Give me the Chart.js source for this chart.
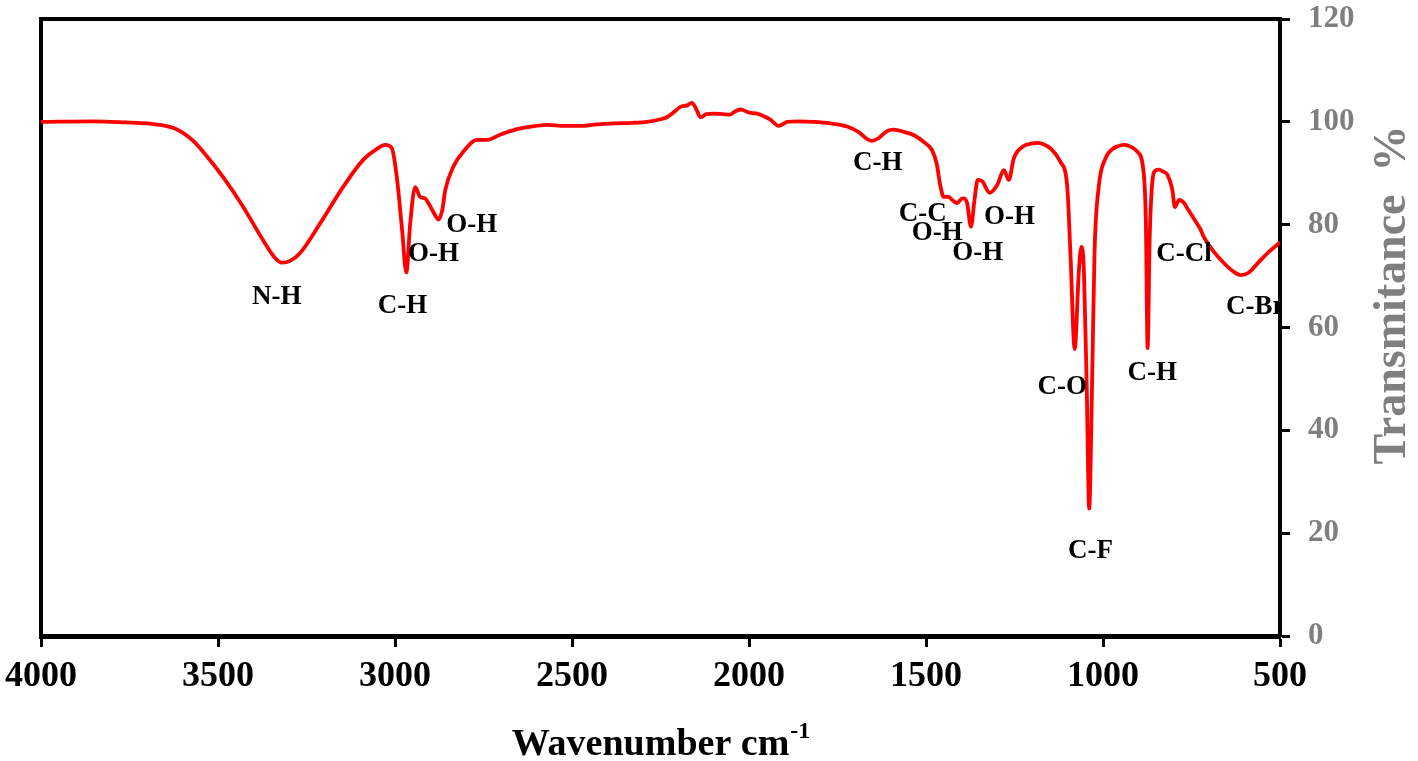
<!DOCTYPE html>
<html>
<head>
<meta charset="utf-8">
<title>FTIR spectrum</title>
<script src="https://cdn.jsdelivr.net/npm/chart.js@4.4.1/dist/chart.umd.min.js"></script>
<style>
  html, body { margin: 0; padding: 0; background: #fff; }
  #wrap { width: 1418px; height: 761px; }
</style>
</head>
<body>
<div id="wrap"><canvas id="ftir" width="1418" height="761"></canvas></div>
<script>
// spectrum, ordered from 4000 down to 500 cm-1
const wavenumbers = [
  4000, 3850, 3760, 3700, 3655, 3625, 3600, 3570, 3542, 3486, 3429, 3373, 3340, 3320, 3295, 3268, 3211, 3146,
  3090, 3050, 3028, 3009, 2995, 2980, 2968, 2957, 2943, 2929, 2915, 2905, 2888, 2877, 2866, 2858,
  2835, 2807, 2768, 2740, 2700, 2665, 2620, 2571, 2520, 2477, 2430, 2383, 2330, 2288, 2250, 2232,
  2210, 2194, 2175, 2161, 2150, 2137, 2120, 2100, 2075, 2053, 2040, 2024, 2000, 1977, 1955, 1939,
  1916, 1892, 1860, 1817, 1770, 1723, 1690, 1665, 1652, 1635, 1610, 1591, 1560, 1534, 1501, 1483,
  1470, 1459, 1450, 1436, 1426, 1412, 1400, 1393, 1384, 1373, 1363, 1354, 1341, 1320, 1299, 1280,
  1266, 1252, 1224, 1200, 1186, 1170, 1148, 1120, 1101, 1092, 1080, 1068, 1061, 1054, 1046, 1039,
  1031, 1024, 1012, 993, 975, 960, 940, 927, 903, 886, 879, 874, 868, 861, 852, 842,
  830, 818, 804, 797, 785, 771, 762, 740, 724, 716, 690, 658, 630, 611, 590, 555,
  530, 503, 500
];
const transmittance = [
  100.0, 100.1, 99.9, 99.7, 99.3, 98.8, 97.9, 96.3, 94.2, 89.3, 83.5, 77.0, 73.6, 72.6, 73.0, 74.5, 80.3, 87.4,
  92.6, 94.8, 95.5, 94.9, 89.3, 79.0, 70.7, 80.3, 87.3, 85.4, 85.1, 84.1, 82.0, 81.0, 83.0, 86.7,
  91.3, 94.2, 96.5, 96.5, 97.6, 98.4, 99.0, 99.4, 99.2, 99.2, 99.5, 99.7, 99.8, 100.0, 100.5, 100.9,
  102.0, 102.9, 103.2, 103.7, 102.6, 100.9, 101.5, 101.6, 101.5, 101.4, 102.0, 102.4, 101.8, 101.6, 101.0, 100.4,
  99.2, 100.0, 100.1, 100.0, 99.7, 99.1, 98.0, 96.6, 96.3, 96.8, 98.2, 98.5, 98.0, 97.4, 95.8, 94.5,
  91.9, 87.4, 85.4, 85.4, 84.8, 84.2, 85.0, 85.1, 84.2, 79.6, 84.8, 88.7, 88.4, 86.2, 87.7, 90.6,
  88.7, 92.9, 95.3, 95.8, 95.9, 95.7, 94.8, 92.2, 87.4, 74.4, 55.8, 71.2, 75.7, 71.2, 48.5, 24.8,
  48.5, 74.4, 87.4, 92.9, 94.6, 95.2, 95.5, 95.3, 94.2, 90.6, 80.9, 56.0, 77.7, 88.0, 90.5, 90.7,
  90.3, 89.7, 86.7, 83.4, 84.8, 84.2, 83.2, 80.8, 79.0, 77.7, 75.0, 72.5, 70.8, 70.2, 70.6, 73.1,
  74.8, 76.4, 76.6
];

// x axis ticks (cm-1) and y axis ticks (%)
const xTicks = [4000, 3500, 3000, 2500, 2000, 1500, 1000, 500];
const yTicks = [0, 20, 40, 60, 80, 100, 120];

// band assignments written on the plot
const bandNames = ['N-H', 'C-H', 'O-H', 'O-H', 'C-H', 'C-C', 'O-H', 'O-H', 'O-H', 'C-O', 'C-F', 'C-H', 'C-Cl', 'C-Br'];
const bandWave  = [3334, 2979, 2891, 2783, 1636, 1509, 1468, 1354, 1264, 1115, 1035, 861, 771, 570];
const bandT     = [65.9, 64.2, 74.3, 79.9, 91.9, 82.1, 78.4, 74.4, 81.4, 48.5, 16.6, 51.2, 74.3, 63.9];

const SERIF = '"Liberation Serif", "Times New Roman", serif';

const frameAndLabels = {
    id: 'frameAndLabels',
    beforeDatasetsDraw(chart) {
        const { ctx, chartArea: a } = chart;
        ctx.save();
        ctx.strokeStyle = '#000';
        ctx.lineWidth = 4;
        ctx.beginPath();
        ctx.moveTo(a.left, a.bottom);
        ctx.lineTo(a.left, a.top);
        ctx.lineTo(a.right, a.top);
        ctx.stroke();
        ctx.restore();
    },
    afterDatasetsDraw(chart) {
        const { ctx, chartArea: a, scales } = chart;
        ctx.save();
        ctx.beginPath();
        ctx.rect(a.left, a.top, a.right - a.left - 2, a.bottom - a.top);
        ctx.clip();
        ctx.fillStyle = '#000';
        ctx.font = 'bold 27px ' + SERIF;
        ctx.textAlign = 'center';
        ctx.textBaseline = 'middle';
        bandNames.forEach((name, i) => {
            ctx.fillText(name, scales.x.getPixelForValue(bandWave[i]), scales.y.getPixelForValue(bandT[i]));
        });
        ctx.restore();

        // axis titles
        ctx.save();
        ctx.fillStyle = '#000';
        ctx.textBaseline = 'alphabetic';
        const main = 'Wavenumber cm';
        ctx.font = 'bold 38px ' + SERIF;
        const w1 = ctx.measureText(main).width;
        ctx.font = 'bold 24px ' + SERIF;
        const w2 = ctx.measureText('-1').width;
        const cx = (a.left + a.right) / 2;
        const x0 = cx - (w1 + w2) / 2;
        ctx.textAlign = 'left';
        ctx.font = 'bold 38px ' + SERIF;
        ctx.fillText(main, x0, 755);
        ctx.font = 'bold 24px ' + SERIF;
        ctx.fillText('-1', x0 + w1 + 1, 738);

        ctx.translate(1393, 295);
        ctx.rotate(-Math.PI / 2);
        ctx.fillStyle = '#7f7f7f';
        ctx.textAlign = 'center';
        ctx.textBaseline = 'middle';
        ctx.font = 'bold 46px ' + SERIF;
        ctx.fillText('Transmitance  %', 0, 0);
        ctx.restore();
    }
};

document.addEventListener('DOMContentLoaded', () => {
    const ctx = document.getElementById('ftir').getContext('2d');
    const points = wavenumbers.map((w, i) => ({ x: w, y: transmittance[i] }));

    new Chart(ctx, {
        type: 'line',
        data: {
            datasets: [{
                label: 'FTIR',
                data: points,
                borderColor: '#ff0000',
                borderWidth: 3.8,
                pointRadius: 0,
                fill: false,
                cubicInterpolationMode: 'monotone'
            }]
        },
        options: {
            responsive: false,
            animation: false,
            events: [],
            layout: { padding: { left: 41, top: 19, right: 0, bottom: 0 } },
            plugins: {
                legend: { display: false },
                tooltip: { enabled: false }
            },
            scales: {
                x: {
                    type: 'linear',
                    position: 'bottom',
                    reverse: true,
                    min: 500,
                    max: 4000,
                    afterBuildTicks: (scale) => { scale.ticks = xTicks.map(v => ({ value: v })); },
                    afterFit: (scale) => {
                        scale.height = 125;
                        scale.paddingLeft = 0;
                        scale.paddingRight = 0;
                    },
                    border: { display: true, color: '#000', width: 5 },
                    grid: { display: true, drawOnChartArea: false, drawTicks: true, tickLength: 11, tickWidth: 3, tickColor: '#000' },
                    ticks: {
                        color: '#000',
                        padding: 8,
                        maxRotation: 0,
                        callback: (v) => String(v),
                        font: { family: SERIF, size: 36, weight: 'bold' }
                    }
                },
                y: {
                    type: 'linear',
                    position: 'right',
                    min: 0,
                    max: 120,
                    afterBuildTicks: (scale) => { scale.ticks = yTicks.map(v => ({ value: v })); },
                    afterFit: (scale) => {
                        scale.width = 138;
                        scale.paddingTop = 0;
                        scale.paddingBottom = 0;
                    },
                    border: { display: true, color: '#000', width: 4 },
                    grid: { display: true, drawOnChartArea: false, drawTicks: true, tickLength: 10, tickWidth: 3, tickColor: '#000' },
                    ticks: {
                        color: '#7f7f7f',
                        padding: 18,
                        callback: (v) => String(v),
                        font: { family: SERIF, size: 31, weight: 'bold' }
                    }
                }
            }
        },
        plugins: [frameAndLabels]
    });
});
</script>
</body>
</html>
